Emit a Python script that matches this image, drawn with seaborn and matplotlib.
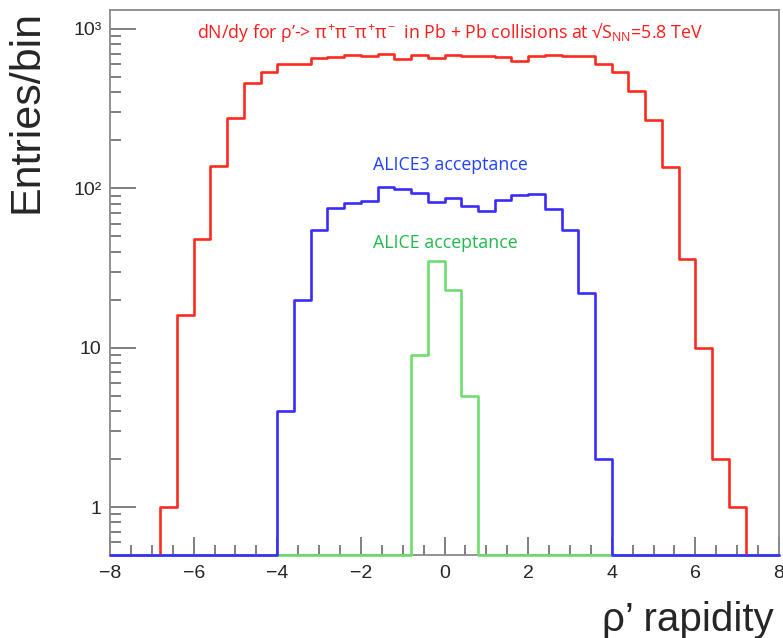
import numpy as np
import pandas as pd
import matplotlib
matplotlib.use("Agg")
import matplotlib.pyplot as plt
import seaborn as sns
from matplotlib.ticker import FixedLocator, MultipleLocator, LogLocator, NullFormatter

# ---- data (40 bins of width 0.4 from -8 to 8) ----
bin_edges = [round(-8 + 0.4 * i, 1) for i in range(41)]
red_counts = [0, 0, 0, 1, 16, 48, 139, 276, 456, 535,
              600, 600, 661, 670, 687, 674, 693, 652, 687, 661,
              687, 674, 680, 665, 630, 678, 687, 678, 678, 600,
              540, 410, 269, 136, 36, 10, 2, 1, 0, 0]
blue_counts = [0, 0, 0, 0, 0, 0, 0, 0, 0, 0,
               4, 20, 55, 75, 81, 83, 102, 99, 93, 82,
               87, 77, 72, 85, 91, 92, 74, 55, 22, 2,
               0, 0, 0, 0, 0, 0, 0, 0, 0, 0]
green_counts = [0] * 18 + [9, 35, 23, 5] + [0] * 18
series_names = ["dN/dy", "ALICE", "ALICE3"]
y_ticks = [1, 10, 100, 1000]
y_tick_labels = ["1", "10", "10\u00b2", "10\u00b3"]
x_ticks = [-8, -6, -4, -2, 0, 2, 4, 6, 8]

YMIN, YMAX = 0.5, 1315

sns.set_theme(style="white")
plt.rcParams["font.family"] = ["Liberation Sans", "DejaVu Sans"]
plt.rcParams["mathtext.fontset"] = "custom"
plt.rcParams["mathtext.rm"] = "Open Sans"
plt.rcParams["mathtext.it"] = "Open Sans"
plt.rcParams["axes.unicode_minus"] = True

rows = []
for name, counts in zip(series_names, [red_counts, green_counts, blue_counts]):
    vals = list(counts) + [counts[-1]]
    for e, v in zip(bin_edges, vals):
        rows.append({"edge": e, "count": max(v, YMIN), "series": name})
df = pd.DataFrame(rows)

palette = {"dN/dy": "#ff2a1f", "ALICE": "#6fdc6f", "ALICE3": "#3a2cff"}

fig = plt.figure(figsize=(7.83, 6.38), dpi=100)
ax = fig.add_axes([110 / 783, 1 - 555 / 638, 669 / 783, 545 / 638])

sns.lineplot(data=df, x="edge", y="count", hue="series",
             hue_order=series_names, palette=palette,
             estimator=None, sort=False, drawstyle="steps-post",
             linewidth=1.9, legend=False, ax=ax, zorder=3, clip_on=False)

ax.set_yscale("log")
ax.set_xlim(-8, 8)
ax.set_ylim(YMIN, YMAX)

for s in ax.spines.values():
    s.set_color("#8a8a8a")
    s.set_linewidth(1.3)
    s.set_visible(True)

ax.xaxis.set_major_locator(FixedLocator(x_ticks))
ax.xaxis.set_minor_locator(MultipleLocator(0.5))
ax.set_xticklabels([f"{t}".replace("-", "\u2212") for t in x_ticks])
ax.yaxis.set_major_locator(FixedLocator(y_ticks))
ax.set_yticklabels(y_tick_labels)
ax.yaxis.set_minor_locator(LogLocator(base=10, subs=np.arange(2, 10)))
ax.yaxis.set_minor_formatter(NullFormatter())

ax.tick_params(axis="x", which="major", direction="in", length=13, width=1.2,
               color="#6a6a6a", labelsize=14, pad=7, bottom=True, top=False)
ax.tick_params(axis="x", which="minor", direction="in", length=7, width=1.2,
               color="#6a6a6a", bottom=True, top=False)
ax.tick_params(axis="y", which="major", direction="in", length=19, width=1.2,
               color="#6a6a6a", labelsize=14, pad=6, left=True, right=False)
ax.tick_params(axis="y", which="minor", direction="in", length=8, width=1.2,
               color="#6a6a6a", left=True, right=False)

ax.set_ylabel("Entries/bin", fontsize=31, loc="top")
ax.yaxis.set_label_coords(-0.095, 1.0)
ax.set_xlabel("\u03c1\u2019 rapidity", fontsize=29, loc="right")
ax.xaxis.set_label_coords(0.992, -0.085)

ax.text(0.508, 1 - (33 - 10) / 545,
        r"dN/dy for ρ’-> $\pi^{+}\pi^{-}\pi^{+}\pi^{-}$  in Pb + Pb collisions at √S$_{\mathrm{NN}}$=5.8 TeV",
        transform=ax.transAxes, ha="center", va="center", color="#ff1a1a",
        fontsize=12.8, family=["Open Sans", "DejaVu Sans"])
ax.text((450 - 110) / 669, 1 - (165 - 10) / 545, "ALICE3 acceptance",
        transform=ax.transAxes, ha="center", va="center", color="#2040ff",
        fontsize=12.8, family=["Open Sans", "DejaVu Sans"])
ax.text((445 - 110) / 669, 1 - (243 - 10) / 545, "ALICE acceptance",
        transform=ax.transAxes, ha="center", va="center", color="#1fb84c",
        fontsize=12.8, family=["Open Sans", "DejaVu Sans"])

fig.savefig("out.png", dpi=100)
